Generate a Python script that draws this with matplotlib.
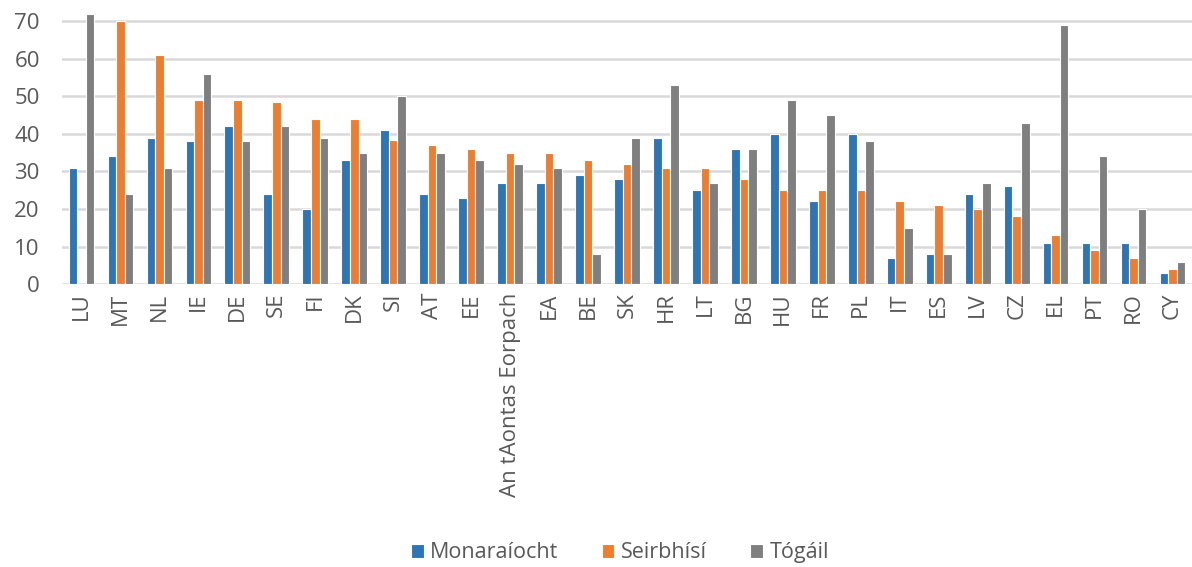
import matplotlib.pyplot as plt
import numpy as np

# category labels (countries) and the three series
countries = ['LU', 'MT', 'NL', 'IE', 'DE', 'SE', 'FI', 'DK', 'SI', 'AT', 'EE',
             'An tAontas Eorpach', 'EA', 'BE', 'SK', 'HR', 'LT', 'BG', 'HU', 'FR',
             'PL', 'IT', 'ES', 'LV', 'CZ', 'EL', 'PT', 'RO', 'CY']
monaraiocht = [31, 34, 39, 38, 42, 24, 20, 33, 41, 24, 23, 27, 27, 29, 28, 39,
               25, 36, 40, 22, 40, 7, 8, 24, 26, 11, 11, 11, 3]
seirbhisi = [0, 70, 61, 49, 49, 48.5, 44, 44, 38.5, 37, 36, 35, 35, 33, 32, 31,
             31, 28, 25, 25, 25, 22, 21, 20, 18, 13, 9, 7, 4]
togail = [72, 24, 31, 56, 38, 42, 39, 35, 50, 35, 33, 32, 31, 8, 39, 53, 27, 36,
          49, 45, 38, 15, 8, 27, 43, 69, 34, 20, 6]
series_names = ['Monaraíocht', 'Seirbhísí', 'Tógáil']
colors = ['#2E75B6', '#ED7D31', '#7F7F7F']

plt.rcParams['font.family'] = ['Open Sans', 'DejaVu Sans']

fig = plt.figure(figsize=(11.92, 5.67), dpi=100)
ax = fig.add_axes([0.052, 0.499, 0.948, 0.478])

x = np.arange(len(countries))
w = 0.22
for i, (vals, name, c) in enumerate(zip([monaraiocht, seirbhisi, togail], series_names, colors)):
    ax.bar(x + (i - 1) * w, vals, width=w, color=c, edgecolor='white',
           linewidth=0.8, label=name, zorder=3)

ax.set_xlim(-0.5, len(countries) - 0.5)
ax.set_ylim(0, 72.2)
ax.set_yticks(range(0, 71, 10))
ax.yaxis.grid(True, color='#D9D9D9', linewidth=1.8, zorder=0)
ax.set_axisbelow(True)
for s in ax.spines.values():
    s.set_visible(False)
ax.tick_params(axis='both', length=0, colors='#595959', labelsize=16)
ax.tick_params(axis='y', pad=16)
ax.tick_params(axis='x', pad=6)
ax.set_xticks(x)
ax.set_xticklabels(countries, rotation=90)

fig.legend(loc='center', bbox_to_anchor=(0.52, 0.025), ncol=3, frameon=False,
           fontsize=15.5, handlelength=0.6, handleheight=0.6, columnspacing=2.0,
           handletextpad=0.3, labelcolor='#595959')

fig.savefig('out.png', dpi=100)
